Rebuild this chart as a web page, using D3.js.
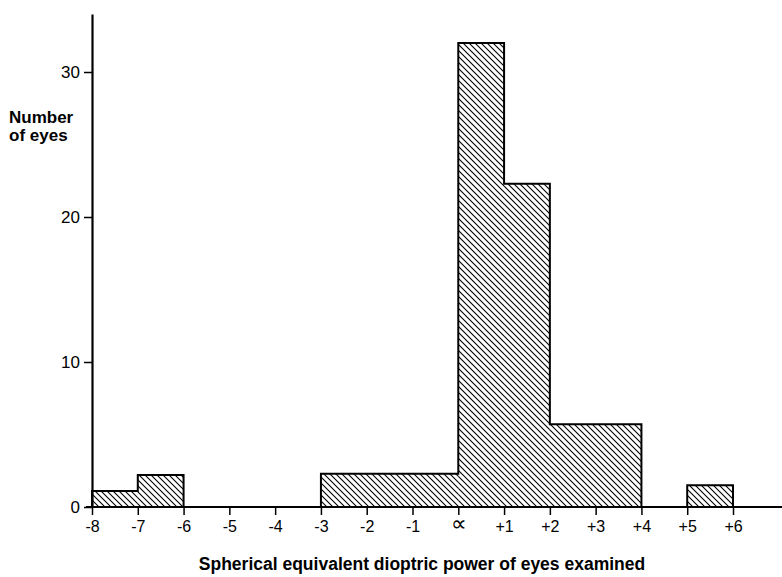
<!DOCTYPE html>
<html>
<head>
<meta charset="utf-8">
<script src="https://cdn.jsdelivr.net/npm/d3@7"></script>
<style>
    body { margin: 0; background: #fff; }
    svg { display: block; font-family: "Liberation Sans", Arial, sans-serif; }
</style>
</head>
<body>
<svg id="chart" width="782" height="577"></svg>
<script>
"use strict";

// bins of refraction (dioptres) and eyes per bin
const binStart = [-8, -7, -3, 0, 1, 2, 5];
const binEnd = [-7, -6, 0, 1, 2, 4, 6];
const eyeCount = [1.1, 2.2, 2.3, 32, 22.3, 5.7, 1.5];

const xTickValues = [-8, -7, -6, -5, -4, -3, -2, -1, 0, 1, 2, 3, 4, 5, 6];
const xTickLabels = ["-8", "-7", "-6", "-5", "-4", "-3", "-2", "-1", "\u221D", "+1", "+2", "+3", "+4", "+5", "+6"];
const yTickValues = [0, 10, 20, 30];

const WIDTH = 782;

const svg = d3.select("#chart");

const x = d3.scaleLinear().domain([-8, 6]).range([92, 733]);
const y = d3.scaleLinear().domain([0, 34]).range([507, 14]);

// diagonal hatching
svg.append("defs")
    .append("pattern")
    .attr("id", "hatch")
    .attr("patternUnits", "userSpaceOnUse")
    .attr("width", 6)
    .attr("height", 6)
    .append("path")
    .attr("d", "M0,0 L6,6 M-1,5 L1,7 M5,-1 L7,1")
    .attr("stroke", "#000")
    .attr("stroke-width", 1.1);

const bins = binStart.map((s, i) => ({ start: s, end: binEnd[i], count: eyeCount[i] }));

svg.append("g")
    .selectAll("rect")
    .data(bins)
    .enter()
    .append("rect")
    .attr("x", d => x(d.start))
    .attr("y", d => y(d.count))
    .attr("width", d => x(d.end) - x(d.start))
    .attr("height", d => y(0) - y(d.count))
    .attr("fill", "url(#hatch)");

// step outline: shared edges only drawn between the two tops
const outline = d3.path();
bins.forEach((b, i) => {
    const prev = bins[i - 1], next = bins[i + 1];
    const leftFrom = prev && prev.end === b.start ? prev.count : 0;
    outline.moveTo(x(b.start), y(leftFrom));
    outline.lineTo(x(b.start), y(b.count));
    outline.lineTo(x(b.end), y(b.count));
    if (!(next && next.start === b.end))
        outline.lineTo(x(b.end), y(0));
});
svg.append("path")
    .attr("d", outline.toString())
    .attr("fill", "none")
    .attr("stroke", "#000")
    .attr("stroke-width", 2)
    .attr("stroke-linecap", "square");

// x axis
const xAxis = svg.append("g")
    .attr("transform", `translate(0,${y(0)})`)
    .call(d3.axisBottom(x)
        .tickValues(xTickValues)
        .tickFormat((d, i) => xTickLabels[i])
        .tickSize(8)
        .tickSizeOuter(0)
        .tickPadding(6));
xAxis.select(".domain").remove();
xAxis.append("line")
    .attr("x1", x(-8) - 6)
    .attr("x2", WIDTH)
    .attr("stroke", "#000")
    .attr("stroke-width", 2);
xAxis.selectAll(".tick line").attr("stroke-width", 1.5);
xAxis.selectAll(".tick text")
    .attr("fill", "#000")
    .attr("font-size", (d, i) => xTickLabels[i] === "\u221D" ? 22 : 16)
    .attr("dy", (d, i) => xTickLabels[i] === "\u221D" ? "0.45em" : "0.71em")
    .attr("font-family", "Liberation Sans, Arial, sans-serif");

// y axis
const yAxis = svg.append("g")
    .attr("transform", `translate(${x(-8)},0)`)
    .call(d3.axisLeft(y)
        .tickValues(yTickValues)
        .tickSize(8)
        .tickSizeOuter(0)
        .tickPadding(4));
yAxis.select(".domain").attr("stroke-width", 2.2);
yAxis.selectAll(".tick line").attr("stroke-width", 1.5);
yAxis.selectAll(".tick text")
    .attr("fill", "#000")
    .attr("font-size", 17)
    .attr("font-family", "Liberation Sans, Arial, sans-serif");

// labels
const yLabel = svg.append("text")
    .attr("x", 9)
    .attr("y", 123)
    .attr("font-size", 17)
    .attr("font-weight", "bold");
yLabel.append("tspan").attr("x", 9).text("Number");
yLabel.append("tspan").attr("x", 9).attr("dy", 18).text("of eyes");

svg.append("text")
    .attr("x", 422)
    .attr("y", 570)
    .attr("text-anchor", "middle")
    .attr("font-size", 17.5)
    .attr("font-weight", "bold")
    .text("Spherical equivalent dioptric power of eyes examined");
</script>
</body>
</html>
